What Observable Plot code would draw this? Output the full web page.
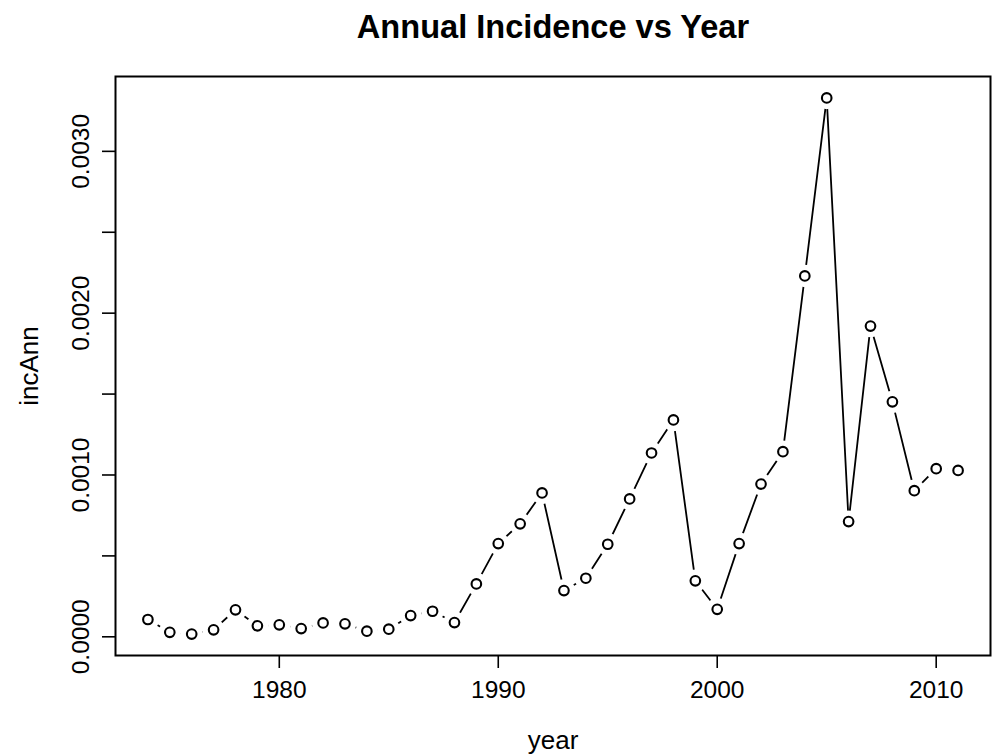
<!DOCTYPE html>
<html>
<head>
<meta charset="utf-8">
<script src="https://cdn.jsdelivr.net/npm/d3@7"></script>
<script src="https://cdn.jsdelivr.net/npm/@observablehq/plot@0.6"></script>
<style>
  body { margin: 0; background: #fff; }
  #title { width: 997px; height: 60px; position: relative; font-family: "Liberation Sans", Arial, sans-serif; }
  #title span { position: absolute; left: 553px; top: 8px; transform: translateX(-50%); font-weight: bold; font-size: 32.6px; white-space: nowrap; color: #000; }
</style>
</head>
<body>
<div id="title"><span>Annual Incidence vs Year</span></div>
<div id="chart"></div>
<script>
const years = [1974,1975,1976,1977,1978,1979,1980,1981,1982,1983,1984,1985,1986,1987,1988,1989,1990,1991,1992,1993,1994,1995,1996,1997,1998,1999,2000,2001,2002,2003,2004,2005,2006,2007,2008,2009,2010,2011];
const incAnn = [0.000107,0.000028,0.000017,0.000043,0.000167,0.000068,0.000074,0.000051,0.000086,0.000080,0.000035,0.000047,0.000131,0.000158,0.000088,0.000327,0.000576,0.000698,0.000889,0.000286,0.000362,0.000572,0.000852,0.001136,0.001340,0.000346,0.000170,0.000576,0.000944,0.001144,0.002230,0.003330,0.000712,0.001920,0.001452,0.000903,0.001039,0.001028];
const xTicks = [1980,1990,2000,2010];
const yTicks = [0,0.0005,0.001,0.0015,0.002,0.0025,0.003];
const yLabels = [0,0.001,0.002,0.003];

const data = years.map((y,i) => ({year: y, inc: incAnn[i]}));

// R-style 4% axis extension
const xr = d3.extent(years), yr = d3.extent(incAnn);
const xpad = (xr[1]-xr[0])*0.04, ypad = (yr[1]-yr[0])*0.04;

const font = "'Liberation Sans', Arial, sans-serif";

const chart = Plot.plot({
  width: 997,
  height: 695,
  marginLeft: 115,
  marginRight: 7,
  marginTop: 16,
  marginBottom: 100,
  style: {fontFamily: font, background: "white", color: "black"},
  x: {domain: [xr[0]-xpad, xr[1]+xpad], axis: null},
  y: {domain: [yr[0]-ypad, yr[1]+ypad], axis: null},
  marks: [
    Plot.line(data, {x: "year", y: "inc", stroke: "black", strokeWidth: 1.8}),
    Plot.dot(data, {x: "year", y: "inc", r: 11.2, fill: "white", stroke: "none"}),
    Plot.dot(data, {x: "year", y: "inc", r: 4.8, fill: "white", stroke: "black", strokeWidth: 2.1}),
    Plot.frame({stroke: "black", strokeWidth: 2}),
    Plot.axisX(xTicks, {label: null, tickSize: 13, tickPadding: 12, fontSize: 24.5, stroke: "black", strokeWidth: 1.6, fill: "black", tickFormat: d => String(d)}),
    Plot.axisY(yTicks, {label: null, tickSize: 13, tickFormat: () => "", stroke: "black", strokeWidth: 1.6}),
    Plot.text(yLabels, {y: d => d, text: d => d.toFixed(4), frameAnchor: "left", dx: -34, rotate: -90, textAnchor: "middle", lineAnchor: "middle", fontSize: 24.5, fill: "black"}),
    Plot.text(["year"], {frameAnchor: "bottom", dy: 85, lineAnchor: "middle", fontSize: 26, fill: "black"}),
    Plot.text(["incAnn"], {frameAnchor: "left", dx: -86, rotate: -90, textAnchor: "middle", lineAnchor: "middle", fontSize: 26, fill: "black"})
  ]
});
document.getElementById("chart").appendChild(chart);
</script>
</body>
</html>
